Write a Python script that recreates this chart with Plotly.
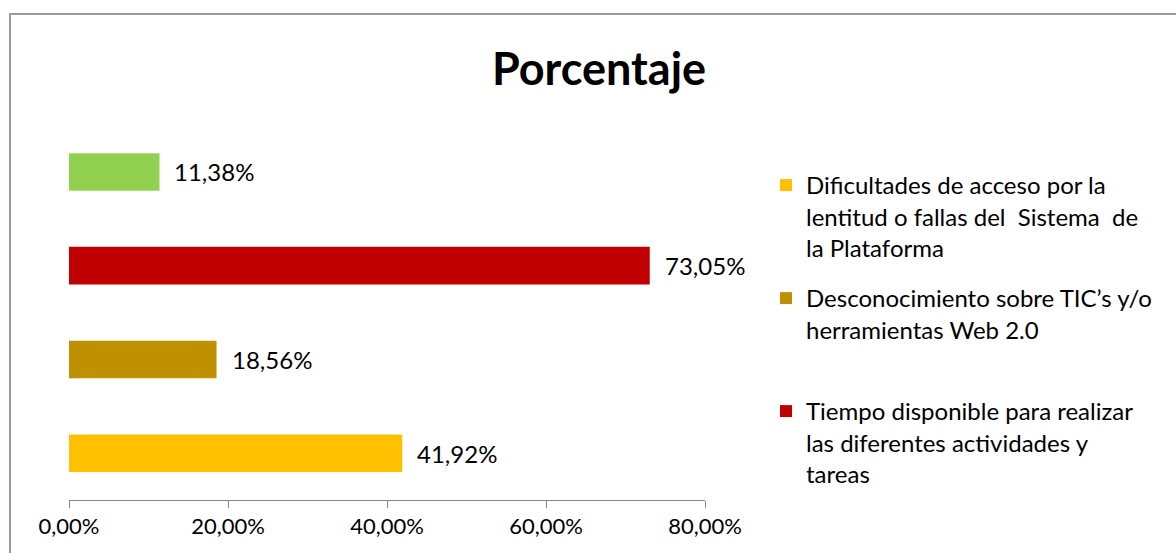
import plotly.graph_objects as go

categories = ["Dificultades", "Desconocimiento", "Tiempo", "Otros"]
values = [41.92, 18.56, 73.05, 11.38]
colors = ["#FFC000", "#BF9000", "#C00000", "#92D050"]
legend_names = [
    "Dificultades de acceso por la<br>lentitud o fallas del\u00a0 Sistema\u00a0 de<br>la Plataforma",
    "Desconocimiento sobre TIC\u2019s y/o<br>herramientas Web 2.0",
    "Tiempo disponible para realizar<br>las diferentes actividades y<br>tareas",
    None,
]
tick_vals = [0, 20, 40, 60, 80]
value_labels = ["41,92%", "18,56%", "73,05%", "11,38%"]

FONT = "Lato, 'Open Sans', sans-serif"
W, H = 1176, 553
L, R, T, B = 69, 705, 125, 500

fig = go.Figure()
legend_ids = ["legend", "legend2", "legend3"]
for i, (cat, val, col, name) in enumerate(zip(categories, values, colors, legend_names)):
    fig.add_trace(go.Bar(
        y=[cat], x=[val], orientation="h",
        marker=dict(color=col, line=dict(width=0)),
        width=0.4,
        name=name if name else cat,
        showlegend=name is not None,
        legend=legend_ids[i] if name is not None else None,
        hoverinfo="x",
    ))
    fig.add_annotation(
        x=val, y=cat, xref="x", yref="y",
        text=value_labels[i], showarrow=False,
        xanchor="left", yanchor="middle", xshift=13,
        font=dict(family=FONT, size=24, color="#000000"),
    )

def py(pixel_y):
    return (B - pixel_y) / (B - T)

def px(pixel_x):
    return (pixel_x - L) / (R - L)

leg_common = dict(
    font=dict(family=FONT, size=24, color="#000000"),
    bgcolor="rgba(0,0,0,0)", borderwidth=0,
    xanchor="left", yanchor="top", valign="top",
    itemwidth=30, tracegroupgap=0,
)
fig.update_layout(
    legend=dict(x=px(766), y=py(163), **leg_common),
    legend2=dict(x=px(766), y=py(276), **leg_common),
    legend3=dict(x=px(766), y=py(389), **leg_common),
)

fig.update_layout(
    width=W, height=H,
    margin=dict(l=L, r=W - R, t=T, b=H - B, pad=0),
    paper_bgcolor="#FFFFFF", plot_bgcolor="#FFFFFF",
    barmode="overlay",
    separators=",.",
    title=dict(
        text="<b>Porcentaje</b>",
        font=dict(family=FONT, size=45, color="#000000"),
        x=599 / W, xanchor="center", xref="container",
        y=1 - 69 / H, yanchor="middle", yref="container",
    ),
    xaxis=dict(
        range=[0, 80], tickvals=tick_vals,
        ticktext=[f"{v:.2f}".replace(".", ",") + "%" for v in tick_vals],
        showgrid=False, zeroline=False,
        showline=True, linecolor="#868686", linewidth=1,
        ticks="outside", ticklen=7, tickcolor="#868686", tickwidth=1,
        tickfont=dict(family=FONT, size=22, color="#000000"),
        fixedrange=True,
    ),
    yaxis=dict(
        categoryorder="array", categoryarray=categories,
        showticklabels=False, showgrid=False, zeroline=False,
        showline=False, ticks="", range=[-0.5, 3.5], fixedrange=True,
    ),
    showlegend=True,
)

# chart area border (decorative)
fig.add_shape(
    type="rect", xref="paper", yref="paper",
    x0=px(10), y0=py(600), x1=px(1200), y1=py(14),
    line=dict(color="#9A9A9A", width=2), fillcolor="rgba(0,0,0,0)",
    layer="below",
)

fig.write_html(
    "out.html",
    config={"displayModeBar": False},
    post_script="document.body.style.margin='0';document.body.style.overflow='hidden';",
)
